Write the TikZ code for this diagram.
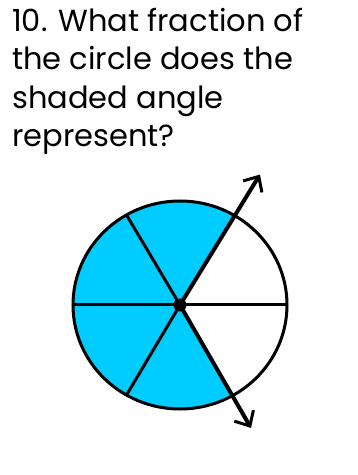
\documentclass[tikz,border=0pt]{standalone}
\usepackage{fontspec}
\setmainfont{Poppins}
\usetikzlibrary{arrows.meta, calc}
\definecolor{sectorblue}{RGB}{0,204,255}
\begin{document}
\begin{tikzpicture}[x=1pt, y=1pt,
  spoke/.style={line width=3pt, black},
  ray/.style={line width=4pt, black, -{Straight Barb[length=12pt, width=22pt, line width=3pt]}},
  cdot/.style={circle, fill=black, inner sep=0pt, minimum size=13pt}]
  \useasboundingbox (0,0) rectangle (357,475);
  % Question text
  \node[anchor=base west, align=left, inner sep=0pt,
    font=\fontsize{30.5}{38.5}\selectfont] (question) at (12,328)
    {10. What fraction of\\the circle does the\\shaded angle\\represent?};
  % Circle cut in sixths
  \coordinate (O) at (180,170);
  \fill[sectorblue] (O) -- ++(60:107 and 104) arc[start angle=60, end angle=300, x radius=107, y radius=104] -- cycle;
  \foreach \a in {0,120,180,240}
    \draw[spoke] (O) -- ++(\a:107 and 104);
  \draw[spoke] (O) ellipse[x radius=107, y radius=104];
  % Angle rays
  \coordinate (up) at ($(O)+(58.5:153)$);
  \coordinate (down) at ($(O)+(-60:142)$);
  \draw[ray] (O) -- (up);
  \draw[ray] (O) -- (down);
  \node[cdot] (centre) at (O) {};
\end{tikzpicture}
\end{document}
